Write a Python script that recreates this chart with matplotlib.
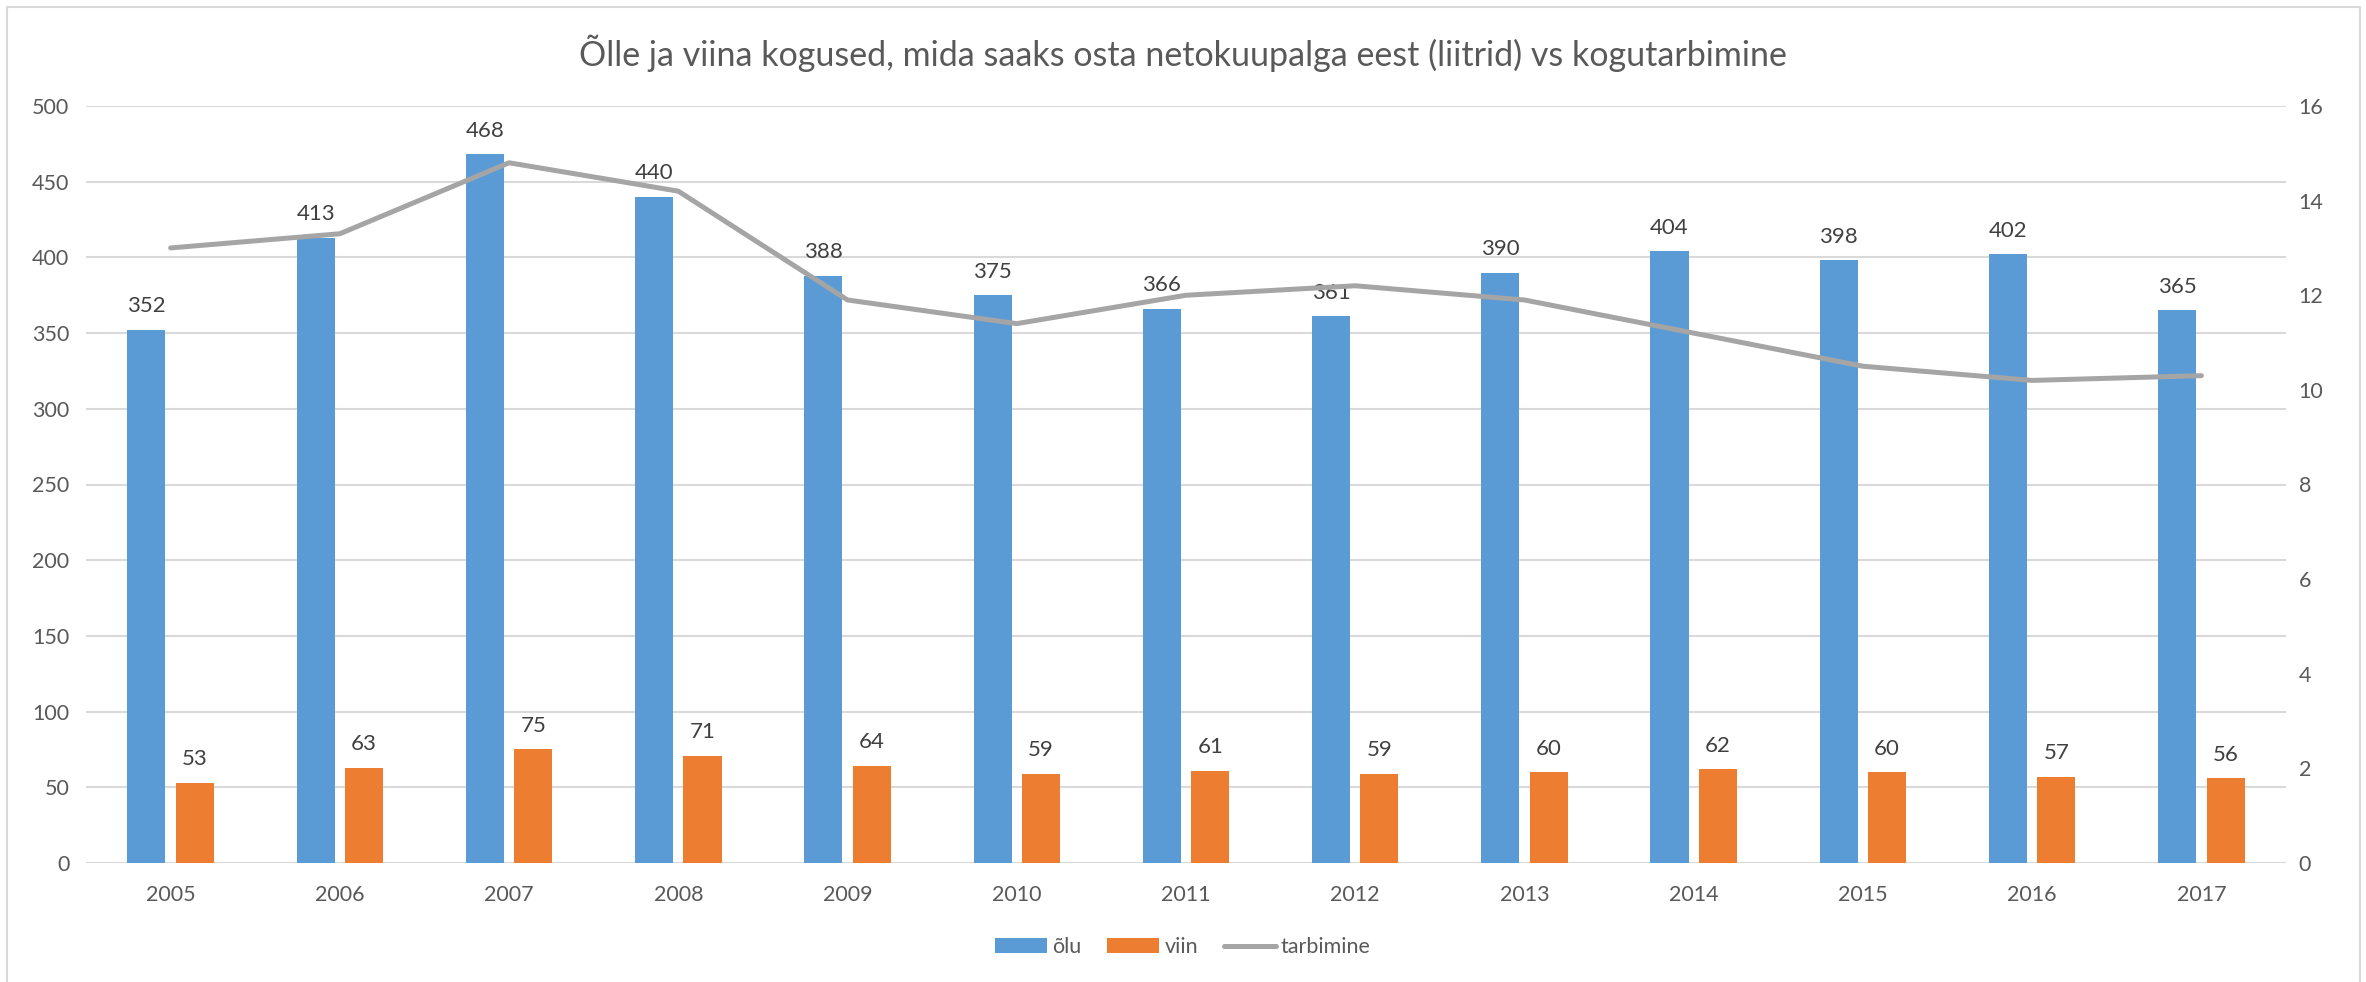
import numpy as np
import matplotlib.pyplot as plt
from matplotlib.patches import Rectangle

plt.rcParams['font.family'] = ['Lato', 'DejaVu Sans']

# andmed
aastad = ['2005', '2006', '2007', '2008', '2009', '2010', '2011',
          '2012', '2013', '2014', '2015', '2016', '2017']
olu = [352, 413, 468, 440, 388, 375, 366, 361, 390, 404, 398, 402, 365]
viin = [53, 63, 75, 71, 64, 59, 61, 59, 60, 62, 60, 57, 56]
tarbimine = [13.0, 13.3, 14.8, 14.2, 11.9, 11.4, 12.0, 12.2, 11.9, 11.2, 10.5, 10.2, 10.3]

W, H = 2366, 982
fig = plt.figure(figsize=(W / 100, H / 100), dpi=100)

# välimine raam
fig.patches.append(Rectangle((7 / W, -0.01), (2360 - 7) / W, (975 - 0) / H + 0.01,
                             transform=fig.transFigure, fill=False,
                             edgecolor='#D9D9D9', linewidth=1.5))

ax1 = fig.add_axes([86 / W, (H - 863) / H, 2200 / W, 757 / H])
x = np.arange(len(aastad))
bw = 0.225
off = 0.143

b1 = ax1.bar(x - off, olu, bw, color='#5B9BD5', label='õlu', zorder=2)
b2 = ax1.bar(x + off, viin, bw, color='#ED7D31', label='viin', zorder=2)

for rects, vals in ((b1, olu), (b2, viin)):
    for r, v in zip(rects, vals):
        ax1.annotate(f'{v}', (r.get_x() + r.get_width() / 2, v),
                     xytext=(0, 17), textcoords='offset points',
                     ha='center', va='center', fontsize=16, color='#404040')

ax1.set_xlim(-0.5, len(aastad) - 0.5)
ax1.set_ylim(0, 500)
ax1.set_yticks(np.arange(0, 501, 50))
ax1.set_xticks(x)
ax1.set_xticklabels(aastad)
ax1.grid(axis='y', color='#D9D9D9', linewidth=1.5, zorder=0)
ax1.set_axisbelow(True)
for s in ax1.spines.values():
    s.set_visible(False)
ax1.tick_params(axis='both', length=0, labelsize=15.5, labelcolor='#595959')
ax1.tick_params(axis='y', pad=12)
ax1.tick_params(axis='x', pad=16)

ax2 = ax1.twinx()
ln, = ax2.plot(x, tarbimine, color='#A5A5A5', linewidth=3.6, label='tarbimine',
               solid_capstyle='round', zorder=3)
ax2.set_ylim(0, 16)
ax2.set_yticks(np.arange(0, 17, 2))
for s in ax2.spines.values():
    s.set_visible(False)
ax2.tick_params(axis='y', length=0, labelsize=15.5, labelcolor='#595959', pad=9)

fig.text(0.5, 1 - 53 / H,
         'Õlle ja viina kogused, mida saaks osta netokuupalga eest (liitrid) vs kogutarbimine',
         ha='center', va='center', fontsize=24.5, color='#595959')

fig.legend(handles=[b1, b2, ln], loc='center', bbox_to_anchor=(0.5, 1 - 947 / H),
           ncol=3, frameon=False, fontsize=15.5, labelcolor='#595959',
           handlelength=2.4, handleheight=0.65, handletextpad=0.25, columnspacing=1.2)

fig.savefig('out.png', dpi=100)
